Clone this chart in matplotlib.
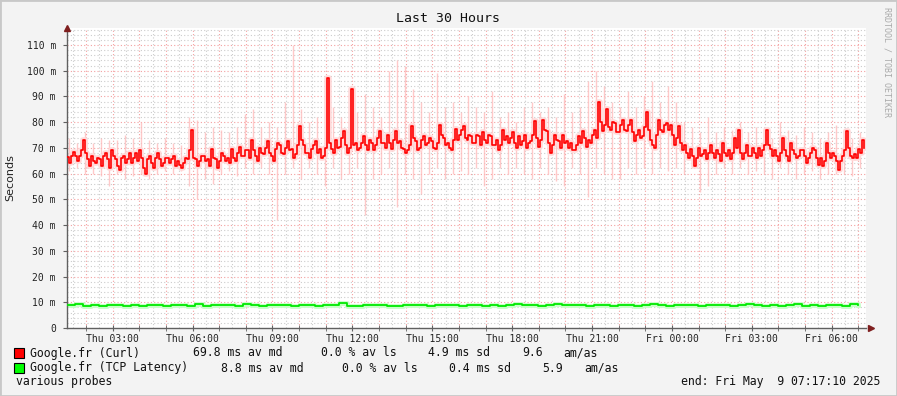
import numpy as np
import matplotlib
matplotlib.use("Agg")
import matplotlib.pyplot as plt
from matplotlib.patches import Rectangle

# sample times in hours since Thu 00:00 (graph spans Thu 01:17:10 .. Fri 07:17:10)
t_start = 1.286
t_end = 31.286

# median of Google.fr (Curl), ms, one sample every ~4.5 min
curl_median = [
    66.5, 64, 67, 68.5, 67, 65, 67, 69, 73, 68, 65.5, 63, 67, 65, 64, 66, 65.5, 63, 67, 68,
    65.5, 62, 69, 67, 65.5, 63, 61.5, 66, 67, 64, 65.5, 68, 64, 66, 68, 65, 69, 66, 62, 60,
    65.5, 67, 64, 62, 66, 68, 65.5, 63, 64, 66, 66, 64, 65.5, 67, 63, 65, 63.5, 62, 64, 66,
    65.5, 69, 77, 66, 65.5, 63, 65, 67, 67, 65, 65.5, 63, 69.5, 66, 65.5, 62, 65, 68, 67, 65,
    66, 64, 69.5, 66, 65, 68, 70.5, 67, 67, 69, 69, 66, 73, 69, 67, 65, 70, 68, 67.5, 70,
    72.5, 68,
    67, 65, 69.5, 72, 71, 68, 67.5, 70, 72.5, 69, 69.5, 66, 67.5, 71, 78.5, 73, 71, 68, 68, 66,
    69.5, 71, 72.5, 68, 69.5, 66, 67, 70, 97, 72, 69.5, 68, 73, 70, 70.5, 74, 76.5, 71, 68, 70,
    93, 71, 72, 69, 70, 72, 74.5, 71, 69, 73, 72, 69, 71, 74, 76.5, 72, 72, 70, 75, 72,
    69.5, 73, 76.5, 72, 72.5, 70, 69.5, 68, 69, 71, 78.5, 74, 72.5, 69, 70, 73, 74.5, 71, 72, 74,
    72.5, 70, 69.5, 72, 79, 75, 74, 71, 72, 70, 69, 73, 77.5, 73, 75, 77, 78.5, 74, 73, 75,
    74.5, 72, 72, 75, 74.5, 71, 76, 73, 72, 75, 74.5, 71, 71, 73, 69, 71, 77, 73, 74.5, 72,
    74, 76, 72, 70, 74.5, 71, 72.5, 75, 70, 72, 72.5, 75, 80.5, 74, 70.5, 73, 81, 77, 76.5, 72,
    68, 71, 75, 73, 72.5, 70, 75, 72, 72.5, 70, 72, 69, 69, 71, 74.5, 72, 76.5, 74, 70.5, 73,
    72, 75, 77, 74, 88, 80, 76.5, 79, 85, 78, 77, 80, 79.5, 76, 76, 79, 81, 77, 76.5, 79,
    81, 76, 72.5, 75, 77, 74, 74.5, 78, 84, 77, 73, 71, 70, 75, 81, 77, 76, 79, 79.5, 77,
    79, 75, 71, 74, 78.5, 72, 69, 71, 68, 66, 69.5, 67, 63, 66, 70, 67, 67.5, 69, 65.5, 68,
    71, 68, 66, 69, 67.5, 65, 72, 68, 67, 69, 65.5, 68, 74, 70, 77, 68, 65.5, 68, 71, 67,
    67, 70, 68, 66, 70, 67, 69, 71, 77, 71, 69.5, 67, 69, 67, 65, 68, 74, 69, 67, 65,
    72, 69, 67.5, 66, 67, 69, 69, 67, 64, 66, 68, 70, 69, 66, 63.5, 66, 63, 65, 72, 68,
    66, 68, 67, 65, 61.5, 65, 67, 69, 76.5, 70, 67, 66, 67.5, 66, 69.5, 68, 73, 70,
]

# smoke (min / max of the pings), one slot every 18 min
smoke_hi = [
    74, 72, 76, 72, 74, 73, 73, 75, 74, 80,
    73, 72, 74, 72, 71, 82, 81, 76, 78, 77,
    76, 78, 83, 85, 78, 80, 78, 88, 110, 85,
    80, 82, 93, 86, 82, 80, 84, 91, 86, 82,
    100, 104, 102, 93, 88, 84, 99, 86, 88, 84,
    90, 86, 84, 92, 82, 84, 80, 86, 88, 84,
    86, 82, 91, 84, 86, 96, 100, 94, 88, 86,
    92, 86, 90, 96, 88, 94, 88, 80, 78, 76,
    82, 76, 78, 77, 80, 76, 78, 76, 74, 80,
    77, 75, 78, 76, 74, 76, 79, 77, 74, 76,
]
smoke_lo = [
    61, 62, 60, 60, 59, 55, 60, 58, 59, 60,
    58, 60, 61, 60, 61, 55, 50, 58, 56, 60,
    61, 59, 62, 60, 62, 60, 42, 60, 62, 58,
    62, 60, 55, 62, 58, 60, 62, 44, 58, 60,
    62, 47, 60, 58, 52, 60, 62, 58, 60, 61,
    60, 62, 55, 58, 62, 60, 62, 60, 58, 62,
    60, 57, 55, 62, 60, 51, 62, 60, 58, 58,
    62, 60, 62, 60, 62, 61, 62, 60, 62, 53,
    55, 60, 62, 60, 62, 60, 61, 60, 58, 62,
    60, 58, 60, 61, 58, 60, 60, 60, 59, 62,
]

# median of Google.fr (TCP Latency), ms, one sample every 18 min
tcp_median = [
    8.8, 9.4, 8.6, 8.9, 8.5, 8.8, 9.0, 8.7, 8.9, 8.6,
    9.1, 8.8, 8.5, 8.9, 9.0, 8.7, 9.5, 8.6, 8.8, 9.0,
    8.9, 8.7, 9.2, 8.8, 8.4, 8.9, 8.8, 9.1, 8.7, 8.8,
    9.0, 8.6, 8.9, 8.8, 9.6, 8.7, 8.6, 8.9, 8.8, 9.0,
    8.7, 8.5, 8.9, 8.8, 9.0, 8.7, 8.9, 9.1, 8.8, 8.6,
    8.8, 9.0, 8.7, 8.9, 8.6, 8.8, 9.2, 8.9, 8.8, 8.7,
    9.0, 9.4, 8.9, 8.8, 9.1, 8.7, 8.9, 8.8, 8.6, 8.9,
    9.0, 8.7, 8.8, 9.3, 8.8, 8.6, 8.9, 8.8, 9.0, 8.7,
    8.9, 8.8, 9.1, 8.7, 8.8, 9.4, 8.8, 8.6, 8.9, 8.7,
    8.8, 9.3, 8.7, 8.8, 8.6, 8.9, 8.8, 8.5, 9.4, 8.8,
]

tick_hours = [3, 6, 9, 12, 15, 18, 21, 24, 27, 30]
tick_labels = ["Thu 03:00", "Thu 06:00", "Thu 09:00", "Thu 12:00", "Thu 15:00",
               "Thu 18:00", "Thu 21:00", "Fri 00:00", "Fri 03:00", "Fri 06:00"]
ytick_vals = [0, 10, 20, 30, 40, 50, 60, 70, 80, 90, 100, 110]
ytick_labels = ["0"] + ["%d m" % v for v in ytick_vals[1:]]

legend_rows = [
    ("#ff0000", "Google.fr (Curl)",
     [(193, "69.8 ms av md"), (321, "0.0 % av ls"), (428, "4.9 ms sd"),
      (522, "9.6"), (563, "am/as")]),
    ("#00ff00", "Google.fr (TCP Latency)",
     [(221, "8.8 ms av md"), (342, "0.0 % av ls"), (449, "0.4 ms sd"),
      (542, "5.9"), (584, "am/as")]),
]

W, H = 897, 396
BG = "#f3f3f3"
MONO = "DejaVu Sans Mono"

fig = plt.figure(figsize=(W / 100, H / 100), dpi=100, facecolor=BG)


def fx(x):
    return x / W


def fy(y):
    return 1 - y / H


# plot area in pixels: x 67..866, y 28..328
ax = fig.add_axes([fx(67), fy(328), fx(866) - fx(67), fy(28) - fy(328)])
ax.set_facecolor("white")
ax.set_xlim(t_start, t_end)
ax.set_ylim(0, 116.6)

# grid
for h in np.arange(1.5, 31.5, 0.5):
    if h % 1 == 0:
        ax.axvline(h, color="#f4a0a0", lw=0.8, ls=(0, (1, 2)), zorder=0)
    else:
        ax.axvline(h, color="#cccccc", lw=0.8, ls=(0, (1, 2)), zorder=0)
for v in np.arange(2, 117, 2):
    if v % 10 == 0:
        ax.axhline(v, color="#f4a0a0", lw=0.8, ls=(0, (1, 2)), zorder=0)
    else:
        ax.axhline(v, color="#cccccc", lw=0.8, ls=(0, (1, 2)), zorder=0)

# smoke
ts_smoke = np.linspace(t_start, t_end, len(smoke_hi), endpoint=False) + 0.075
ax.vlines(ts_smoke, smoke_lo, smoke_hi, color="#ffbcbc", lw=1.0, alpha=0.8, zorder=1)

# median lines (with a pale halo for the dense part of the smoke)
ts_curl = np.linspace(t_start, t_end, len(curl_median) + 1)[:-1]
ax.plot(ts_curl, curl_median, drawstyle="steps-post", color="#ffd9d9", lw=4,
        zorder=2)
ax.plot(ts_curl, curl_median, drawstyle="steps-post", color="#ff0000", lw=1.2, zorder=3)
ts_tcp = np.linspace(t_start, t_end, len(tcp_median) + 1)[:-1]
ax.plot(ts_tcp, tcp_median, drawstyle="steps-post", color="#c8ffc8", lw=3.5, zorder=2)
ax.plot(ts_tcp, tcp_median, drawstyle="steps-post", color="#00e800", lw=1.3, zorder=3)

# axes styling
for s in ["top", "right"]:
    ax.spines[s].set_visible(False)
for s in ["left", "bottom"]:
    ax.spines[s].set_color("#606060")
    ax.spines[s].set_linewidth(1.0)
ax.set_xticks(tick_hours)
ax.set_xticklabels(tick_labels, fontfamily=MONO, fontsize=7, color="#222222")
ax.set_xticks(np.arange(2, 32, 1), minor=True)
ax.set_yticks(ytick_vals)
ax.set_yticklabels(ytick_labels, fontfamily=MONO, fontsize=7, color="#222222")
ax.tick_params(axis="x", which="both", direction="inout", length=4, color="#606060", pad=2)
ax.tick_params(axis="y", which="both", direction="out", length=3, color="#606060", pad=5)
ax.set_ylabel("Seconds", fontsize=8, color="#222222", labelpad=8)

# axis arrows
ax.plot([t_start], [116.6], marker="^", color="#7f1f1f", markersize=5, clip_on=False, zorder=5)
ax.plot([t_end + 0.2], [0], marker=">", color="#7f1f1f", markersize=5, clip_on=False, zorder=5)

# title and side note
fig.text(fx(448), fy(19), "Last 30 Hours", fontfamily=MONO, fontsize=9.5,
         ha="center", va="center", color="#111111")
fig.text(fx(887), fy(62), "RRDTOOL / TOBI OETIKER", fontfamily=MONO, fontsize=6,
         rotation=270, ha="center", va="center", color="#aaaaaa")

# legend
for i, (col, name, cols) in enumerate(legend_rows):
    yc = 353 + i * 15
    fig.patches.append(Rectangle((fx(14), fy(yc + 5)), fx(10), fy(yc - 5) - fy(yc + 5),
                                 transform=fig.transFigure, facecolor=col,
                                 edgecolor="#000000", lw=0.8))
    fig.text(fx(30), fy(yc), name, fontfamily=MONO, fontsize=8.3, va="center", color="#111111")
    for x, s in cols:
        fig.text(fx(x), fy(yc), s, fontfamily=MONO, fontsize=8.3, va="center", color="#111111")

fig.text(fx(16), fy(382), "various probes", fontfamily=MONO, fontsize=8.3,
         va="center", color="#111111")
fig.text(fx(880), fy(382), "end: Fri May  9 07:17:10 2025", fontfamily=MONO, fontsize=8.3,
         ha="right", va="center", color="#111111")

# frame
fig.patches.append(Rectangle((0, 0), 1, 1, transform=fig.transFigure, fill=False,
                             edgecolor="#c8c8c8", lw=2))

fig.savefig("out.png", dpi=100, facecolor=BG)
